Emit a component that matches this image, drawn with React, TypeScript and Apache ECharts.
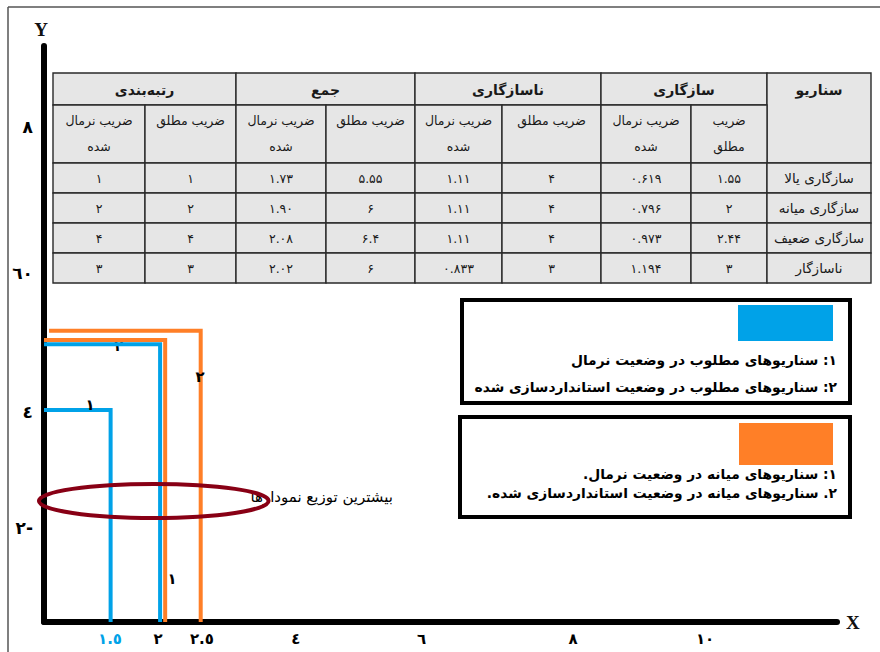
import React, { useEffect, useRef } from 'react';
import * as echarts from 'echarts';

// ---------- table data ----------
const scenarios = ['سازگاری یالا', 'سازگاری میانه', 'سازگاری ضعیف', 'ناسازگار'];
const compatAbsolute = ['1.55', '2', '2.44', '3'];
const compatNormalized = ['0.619', '0.796', '0.973', '1.194'];
const incompatAbsolute = ['4', '4', '4', '3'];
const incompatNormalized = ['1.11', '1.11', '1.11', '0.833'];
const sumAbsolute = ['5.55', '6', '6.4', '6'];
const sumNormalized = ['1.73', '1.90', '2.08', '2.02'];
const rankAbsolute = ['1', '2', '4', '3'];
const rankNormalized = ['1', '2', '4', '3'];
const groupHeaders = ['رتبه‌بندی', 'جمع', 'ناسازگاری', 'سازگاری'];
const scenarioHeader = 'سناریو';
const subHeaderLines = [
  ['ضریب نرمال', 'شده'],
  ['ضریب مطلق', ''],
  ['ضریب نرمال', 'شده'],
  ['ضریب مطلق', ''],
  ['ضریب نرمال', 'شده'],
  ['ضریب مطلق', ''],
  ['ضریب نرمال', 'شده'],
  ['ضریب', 'مطلق'],
];

// ---------- axes ----------
const xTickLabels = ['١.٥', '٢', '٢.٥', '٤', '٦', '٨', '١٠'];
const xTickAt = [1.04, 1.8, 2.49, 3.97, 5.95, 8.34, 10.42];
const yTickLabels = ['٨', '٦٠', '٤', '٢-'];
const yTickAt = [8.04, 5.96, 3.97, 2.31];

// ---------- step lines (corner x, corner y, start x) ----------
const stepCornerX = [2.47, 1.91, 1.83, 1.05];
const stepCornerY = [5.13, 5.0, 4.94, 4.0];
const stepStartX = [0.08, 0, 0, 0];

// line number labels
const lineLabelText = ['١', '١', '٢'];
const lineLabelX = [0.725, 2.02, 2.46];
const lineLabelY = [4.07, 1.59, 4.47];
const hiddenLabelText = ['٢'];
const hiddenLabelX = [1.18];
const hiddenLabelY = [4.92];

// highlighted zone (centre x, centre y, radius x, radius y)
const zoneEllipse = [1.73, 2.7, 1.81, 0.243];
const zoneText = 'بیشترین توزیع نمودارها';
const zoneTextAt = [5.5, 2.76];

// legend texts
const legendBlue = ['۱: سناریوهای مطلوب در وضعیت نرمال', '۲: سناریوهای مطلوب در وضعیت استانداردسازی شده'];
const legendOrange = ['۱: سناریوهای میانه در وضعیت نرمال.', '۲. سناریوهای میانه در وضعیت استانداردسازی شده.'];

const X_MIN = 0;
const X_MAX = 12.5;
const Y_MIN = 0.97;
const Y_MAX = 9.2;

const FA = '"DejaVu Sans", sans-serif';
const BLUE = '#00a2e8';
const ORANGE = '#ff7f27';
const rtl = (s: string) => '\u200F' + s + '\u200F';
const toFa = (s: string) => s.replace(/[0-9]/g, (d) => '۰۱۲۳۴۵۶۷۸۹'[+d]);

function textSeries(
  id: string,
  xs: number[],
  ys: number[],
  texts: string[],
  opt: { dx?: number; dy?: number; align: string; verticalAlign: string; size: number; weight?: string; colors?: string[]; z?: number; family?: string }
) {
  return {
    id,
    type: 'custom',
    z: opt.z ?? 5,
    silent: true,
    clip: false,
    data: xs.map((x, i) => [x, ys[i]]),
    encode: { x: 0, y: 1 },
    renderItem: (params: any, api: any) => {
      const p = api.coord([api.value(0), api.value(1)]);
      const i = params.dataIndex;
      return {
        type: 'text',
        x: p[0] + (opt.dx ?? 0),
        y: p[1] + (opt.dy ?? 0),
        style: {
          text: texts[i],
          fill: opt.colors ? opt.colors[i] : '#000',
          fontSize: opt.size,
          fontWeight: opt.weight ?? 'normal',
          fontFamily: opt.family ?? FA,
          align: opt.align,
          verticalAlign: opt.verticalAlign,
        },
      };
    },
  };
}

// table layout
const colEdges = [53, 145, 236, 326, 415, 502, 601, 691, 767, 871];
const rowEdges = [73, 105, 163, 193, 223, 253, 283];

function buildTable() {
  const els: any[] = [];
  const cellStyle = { fill: '#e6e6e6', stroke: '#2a2a2a', lineWidth: 1.4 };
  const txt = (x: number, y: number, s: string, size: number, weight = 'normal') => ({
    type: 'text',
    x,
    y,
    style: { text: rtl(s), fill: '#1a1a1a', fontSize: size, fontWeight: weight, fontFamily: FA, align: 'center', verticalAlign: 'middle' },
  });
  groupHeaders.forEach((h, g) => {
    const x0 = colEdges[g * 2];
    const x1 = colEdges[g * 2 + 2];
    els.push({ type: 'rect', shape: { x: x0, y: rowEdges[0], width: x1 - x0, height: rowEdges[1] - rowEdges[0] }, style: cellStyle });
    els.push(txt((x0 + x1) / 2, 90, h, 14, 'bold'));
  });
  els.push({ type: 'rect', shape: { x: colEdges[8], y: rowEdges[0], width: colEdges[9] - colEdges[8], height: rowEdges[2] - rowEdges[0] }, style: cellStyle });
  els.push(txt((colEdges[8] + colEdges[9]) / 2, 90, scenarioHeader, 14, 'bold'));
  subHeaderLines.forEach((lines, c) => {
    const x0 = colEdges[c];
    const x1 = colEdges[c + 1];
    els.push({ type: 'rect', shape: { x: x0, y: rowEdges[1], width: x1 - x0, height: rowEdges[2] - rowEdges[1] }, style: cellStyle });
    els.push(txt((x0 + x1) / 2, 120, lines[0], 12.5));
    if (lines[1]) els.push(txt((x0 + x1) / 2, 146, lines[1], 12.5));
  });
  const columns = [rankNormalized, rankAbsolute, sumNormalized, sumAbsolute, incompatNormalized, incompatAbsolute, compatNormalized, compatAbsolute];
  scenarios.forEach((name, r) => {
    const y0 = rowEdges[r + 2];
    const y1 = rowEdges[r + 3];
    columns.forEach((col, c) => {
      const x0 = colEdges[c];
      const x1 = colEdges[c + 1];
      els.push({ type: 'rect', shape: { x: x0, y: y0, width: x1 - x0, height: y1 - y0 }, style: cellStyle });
      els.push(txt((x0 + x1) / 2, (y0 + y1) / 2, toFa(col[r]), 12.5));
    });
    els.push({ type: 'rect', shape: { x: colEdges[8], y: y0, width: colEdges[9] - colEdges[8], height: y1 - y0 }, style: cellStyle });
    els.push(txt((colEdges[8] + colEdges[9]) / 2, (y0 + y1) / 2, name, 13.5));
  });
  return els;
}

function buildLegend() {
  const els: any[] = [];
  const lt = (y: number, s: string) => ({
    type: 'text',
    x: 837,
    y,
    style: { text: rtl(s), fill: '#000', fontSize: 13.8, fontWeight: 'bold', fontFamily: FA, align: 'right', verticalAlign: 'middle' },
  });
  els.push({ type: 'rect', shape: { x: 462, y: 300, width: 388, height: 103 }, style: { fill: '#fff', stroke: '#000', lineWidth: 4 } });
  els.push({ type: 'rect', shape: { x: 738, y: 305, width: 95, height: 36 }, style: { fill: BLUE } });
  els.push(lt(360, legendBlue[0]));
  els.push(lt(387, legendBlue[1]));
  els.push({ type: 'rect', shape: { x: 460, y: 417, width: 390, height: 100 }, style: { fill: '#fff', stroke: '#000', lineWidth: 4 } });
  els.push({ type: 'rect', shape: { x: 739, y: 423, width: 94, height: 42 }, style: { fill: ORANGE } });
  els.push(lt(474, legendOrange[0]));
  els.push(lt(493, legendOrange[1]));
  return els;
}

const stepColors = [ORANGE, ORANGE, BLUE, BLUE];

const option: any = {
  animation: false,
  backgroundColor: '#fff',
  grid: { left: 44, right: 43, top: 46, bottom: 30, containLabel: false },
  xAxis: {
    type: 'value',
    min: X_MIN,
    max: X_MAX,
    name: 'X',
    nameLocation: 'end',
    nameGap: 9,
    nameTextStyle: { fontFamily: '"Liberation Serif", serif', fontWeight: 'bold', fontSize: 19, color: '#111', padding: [0, 0, 8, 0] },
    axisLine: { show: true, onZero: false, lineStyle: { color: '#000', width: 6 } },
    axisTick: { show: false },
    axisLabel: { show: false },
    splitLine: { show: false },
  },
  yAxis: {
    type: 'value',
    min: Y_MIN,
    max: Y_MAX,
    name: 'Y',
    nameLocation: 'end',
    nameGap: 7,
    nameTextStyle: { fontFamily: '"Liberation Serif", serif', fontWeight: 'bold', fontSize: 19, color: '#111', padding: [0, 6, 0, 0] },
    axisLine: { show: true, onZero: false, lineStyle: { color: '#000', width: 6 } },
    axisTick: { show: false },
    axisLabel: { show: false },
    splitLine: { show: false },
  },
  graphic: [
    { type: 'line', shape: { x1: 8, y1: 7, x2: 880, y2: 7 }, style: { stroke: '#555', lineWidth: 1.5 } },
    { type: 'line', shape: { x1: 8, y1: 7, x2: 8, y2: 652 }, style: { stroke: '#555', lineWidth: 1.5 } },
    ...buildTable(),
    ...buildLegend(),
  ],
  series: [
    textSeries('hiddenLabels', hiddenLabelX, hiddenLabelY, hiddenLabelText, { align: 'center', verticalAlign: 'middle', size: 14, weight: 'bold', z: 1 }),
    ...stepCornerX.map((cx, i) => ({
      id: 'step' + i,
      type: 'line',
      z: 3,
      silent: true,
      symbol: 'none',
      clip: false,
      lineStyle: { color: stepColors[i], width: 4, cap: 'butt', join: 'miter' },
      data: [
        [stepStartX[i], stepCornerY[i]],
        [cx, stepCornerY[i]],
        [cx, Y_MIN],
      ],
    })),
    textSeries('lineLabels', lineLabelX, lineLabelY, lineLabelText, { align: 'center', verticalAlign: 'middle', size: 15, weight: 'bold', z: 6 }),
    textSeries('zoneText', [zoneTextAt[0]], [zoneTextAt[1]], [rtl(zoneText)], { align: 'right', verticalAlign: 'middle', size: 15, z: 4 }),
    {
      id: 'zone',
      type: 'custom',
      z: 5,
      silent: true,
      clip: false,
      data: [zoneEllipse],
      encode: { x: 0, y: 1 },
      renderItem: (params: any, api: any) => {
        const c = api.coord([api.value(0), api.value(1)]);
        const s = api.size([api.value(2), api.value(3)]);
        return {
          type: 'ellipse',
          shape: { cx: c[0], cy: c[1], rx: s[0], ry: s[1] },
          style: { fill: 'none', stroke: '#880015', lineWidth: 4 },
        };
      },
    },
    textSeries('xTicks', xTickAt, xTickAt.map(() => Y_MIN), xTickLabels, {
      dy: 9,
      align: 'center',
      verticalAlign: 'top',
      size: 15,
      weight: 'bold',
      colors: xTickLabels.map((_, i) => (i === 0 ? BLUE : '#000')),
    }),
    textSeries('yTicks', yTickAt.map(() => X_MIN), yTickAt, yTickLabels, {
      dx: -11,
      align: 'right',
      verticalAlign: 'middle',
      size: 17,
      weight: 'bold',
    }),
  ],
};

export default function App() {
  const ref = useRef<HTMLDivElement>(null);
  useEffect(() => {
    if (!ref.current) return;
    const chart = echarts.init(ref.current, null, { renderer: 'svg' });
    chart.setOption(option);
    return () => chart.dispose();
  }, []);
  return <div ref={ref} style={{ position: 'absolute', left: 0, top: 0, width: 880, height: 652, background: '#fff' }} />;
}
